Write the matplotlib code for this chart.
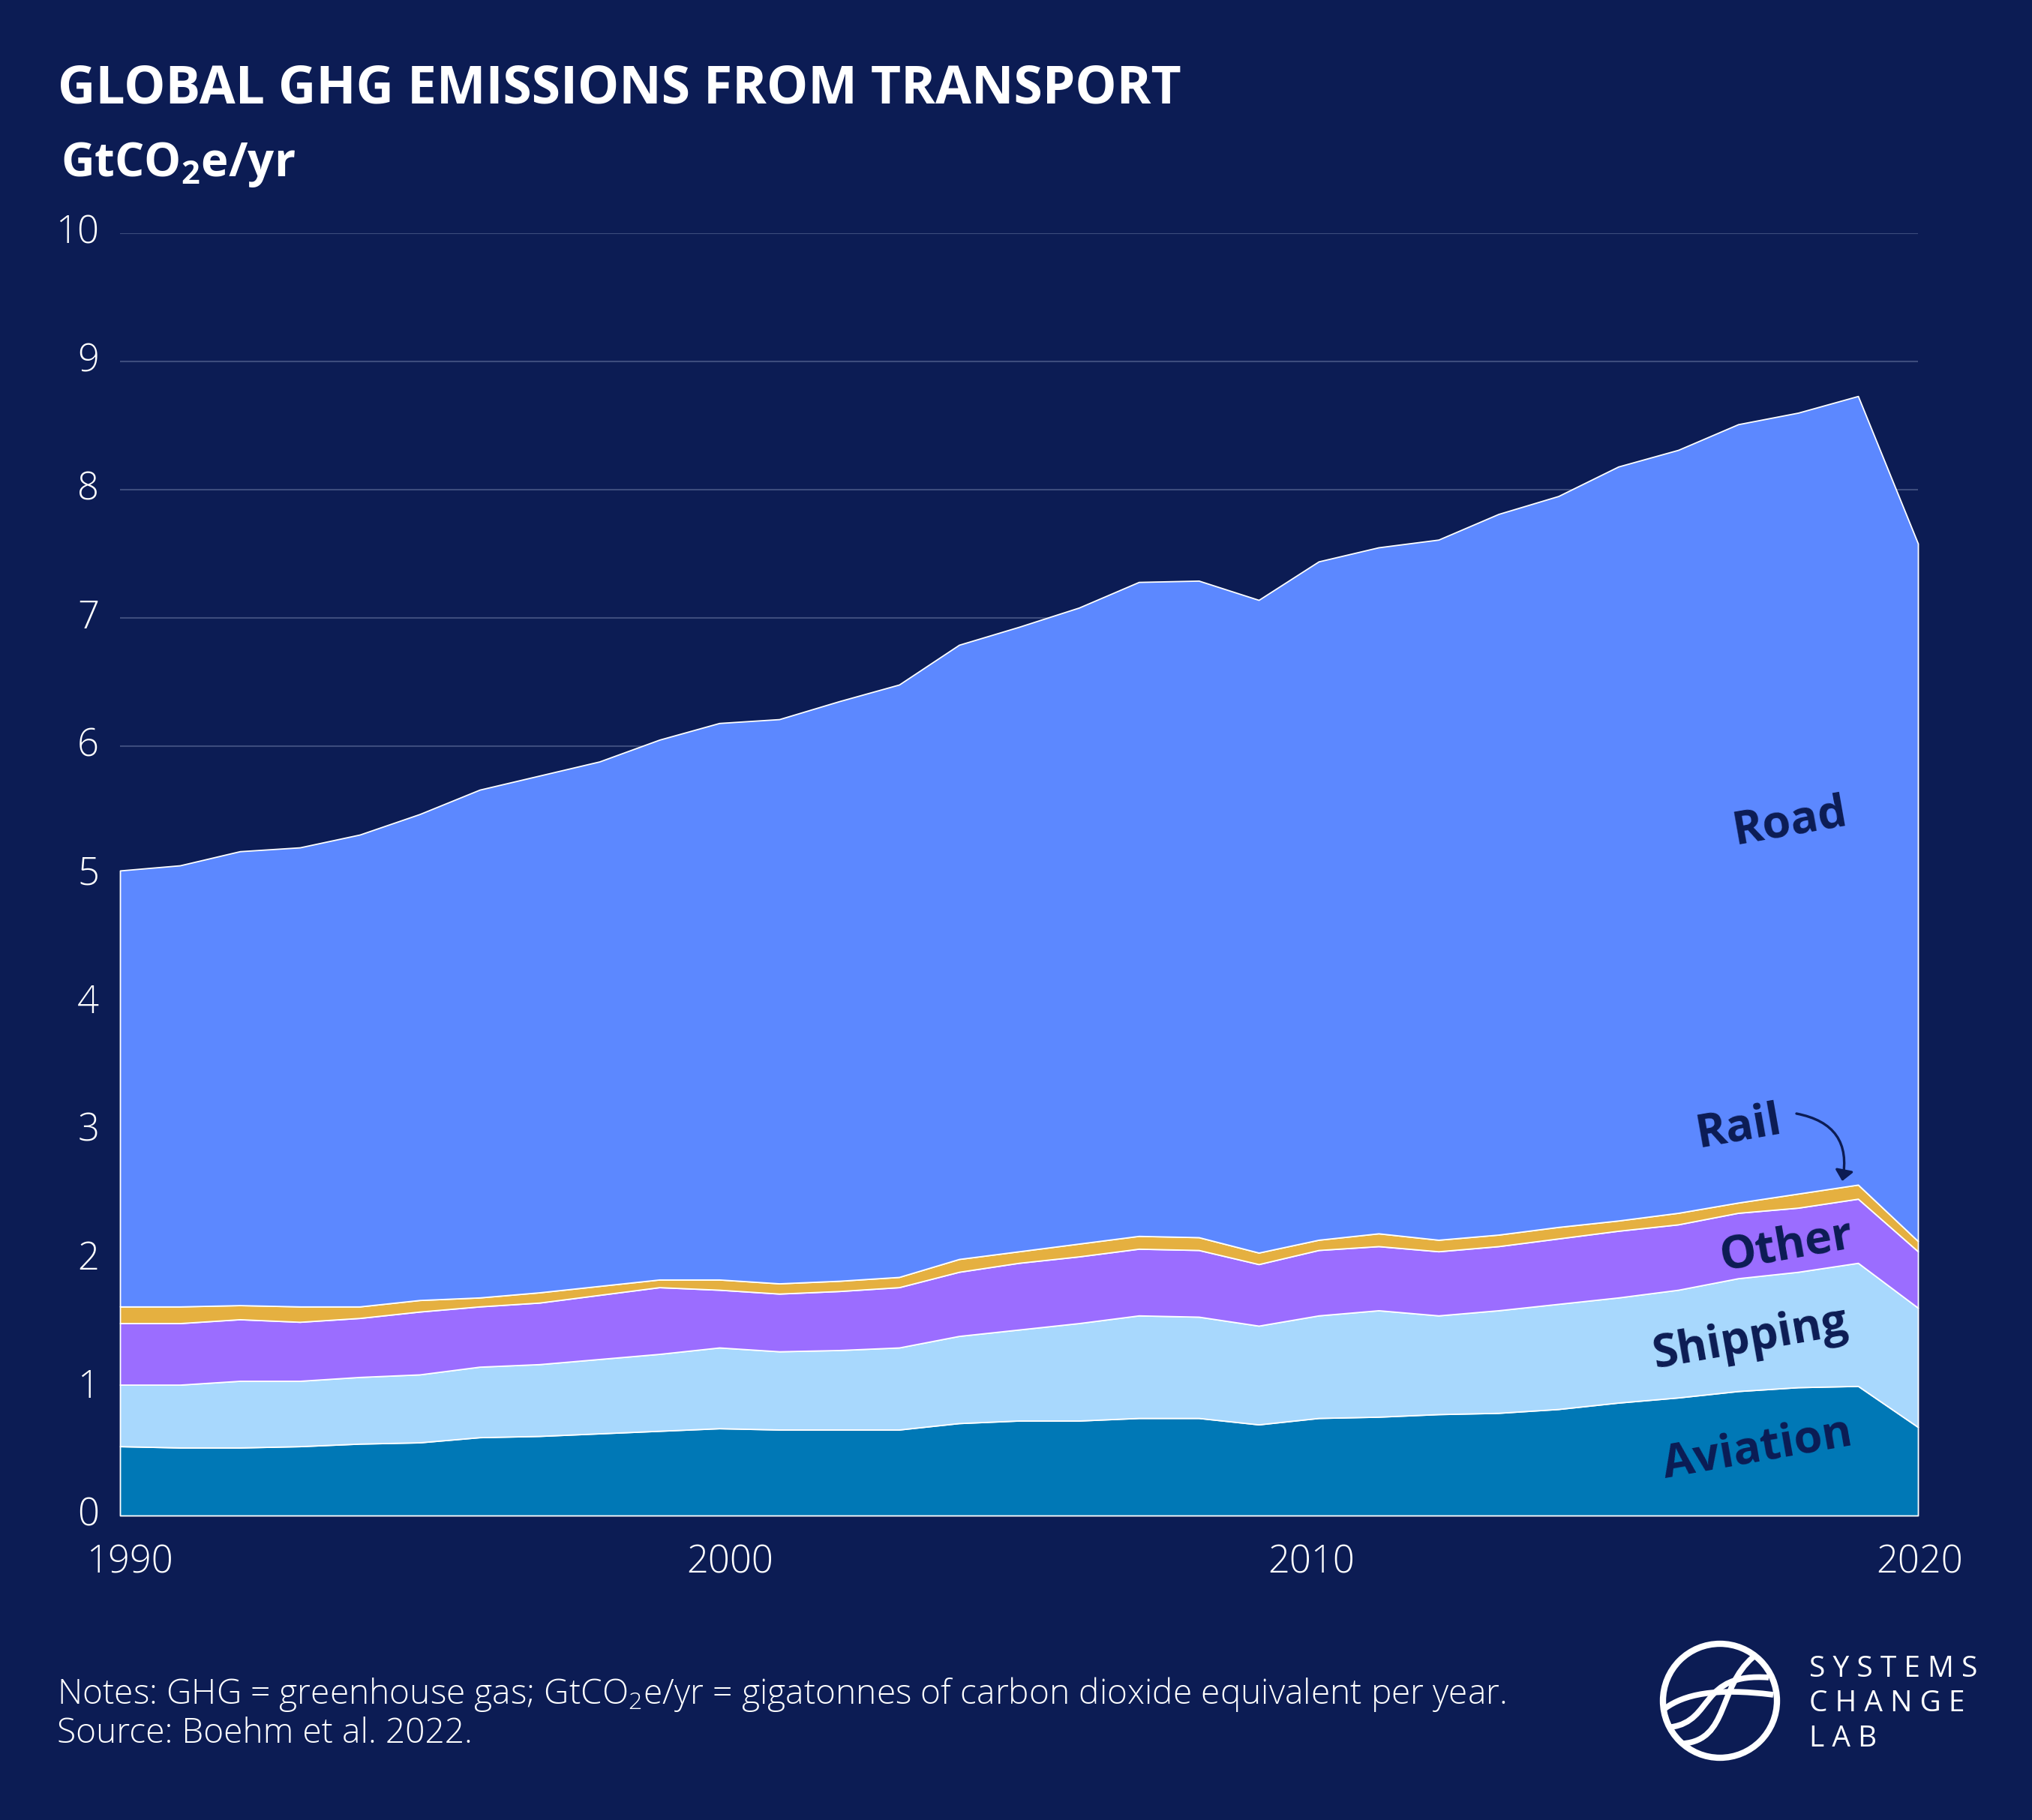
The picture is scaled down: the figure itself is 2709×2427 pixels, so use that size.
import matplotlib
matplotlib.use('Agg')
import matplotlib.pyplot as plt
from matplotlib.patches import Circle, PathPatch, FancyArrowPatch
from matplotlib.path import Path
from matplotlib.transforms import ScaledTranslation, Affine2D

W, H = 2709, 2427
FONT = 'Open Sans'
BG = '#0c1c54'
plt.rcParams['font.family'] = [FONT, 'DejaVu Sans']
plt.rcParams['mathtext.default'] = 'regular'

years = list(range(1990, 2021))
aviation = [.54,.53,.53,.54,.56,.57,.61,.62,.64,.66,.68,.67,.67,.67,.72,.74,.74,.76,.76,.71,.76,.77,.79,.80,.83,.88,.92,.97,1.00,1.01,.69]
shipping = [.48,.49,.52,.51,.52,.53,.55,.56,.58,.60,.63,.61,.62,.64,.68,.71,.76,.80,.79,.77,.80,.83,.77,.80,.82,.82,.84,.88,.90,.96,.93]
other = [.48,.48,.48,.46,.46,.49,.47,.48,.50,.52,.45,.45,.46,.47,.50,.52,.52,.52,.52,.48,.51,.50,.50,.50,.51,.52,.51,.51,.50,.50,.44]
rail = [.13,.13,.11,.12,.09,.09,.07,.08,.07,.06,.08,.08,.08,.08,.10,.09,.10,.10,.10,.09,.08,.10,.09,.09,.09,.08,.09,.08,.11,.11,.08]
road = [3.40,3.44,3.54,3.58,3.68,3.79,3.96,4.03,4.09,4.21,4.34,4.40,4.52,4.62,4.79,4.87,4.96,5.10,5.12,5.09,5.29,5.35,5.46,5.62,5.70,5.88,5.95,6.07,6.09,6.15,5.44]
series_colors = ['#0078b6', '#a8d8fd', '#9b6dff', '#e5b040', '#5c88ff']
y_ticks = list(range(0, 11))
x_ticks = [1990, 2000, 2010, 2020]
x_tick_shift_px = [13, 14, -10, 2]

fig = plt.figure(figsize=(W/100, H/100), dpi=100, facecolor=BG)
ax = fig.add_axes([160/W, (H-2021)/H, 2397/W, 1710/H], facecolor=BG)
ax.set_xlim(1990, 2020)
ax.set_ylim(0, 10)
for s in ax.spines.values():
    s.set_visible(False)
ax.yaxis.grid(True, color='#3d4c7d', lw=1.5)
ax.set_axisbelow(True)
polys = ax.stackplot(years, aviation, shipping, other, rail, road, colors=series_colors,
                     edgecolor='white', linewidth=1.3)
for p in polys:
    p.set_clip_on(False)
    p.set_zorder(2)

ax.set_yticks(y_ticks)
ax.set_xticks(x_ticks)
ax.tick_params(length=0, colors='white', labelsize=36.5)
ax.tick_params(axis='y', pad=20)
ax.tick_params(axis='x', pad=27)
for lab in ax.get_yticklabels():
    lab.set_fontweight('light')
    lab.set_transform(lab.get_transform() + ScaledTranslation(0, 6/100, fig.dpi_scale_trans))
for lab, dx in zip(ax.get_xticklabels(), x_tick_shift_px):
    lab.set_fontweight('light')
    lab.set_transform(lab.get_transform() + ScaledTranslation(dx/100, 0, fig.dpi_scale_trans))

def T(x, y, s, **kw):
    return fig.text(x/W, 1-y/H, s, **kw)

T(77, 138, 'GLOBAL GHG EMISSIONS FROM TRANSPORT', color='white', fontsize=50, fontweight='bold', va='baseline')
T(81, 235, 'GtCO$_2$e/yr', color='white', fontsize=44.5, fontweight='bold', va='baseline')
T(76, 2272, 'Notes: GHG = greenhouse gas; GtCO$_2$e/yr = gigatonnes of carbon dioxide equivalent per year.',
  color='white', fontsize=33.2, fontweight='light', va='baseline')
T(76, 2324, 'Source: Boehm et al. 2022.', color='white', fontsize=33.2, fontweight='light', va='baseline')

for name, x, y in [('Road', 2386, 1097), ('Rail', 2318, 1504), ('Other', 2382, 1663),
                   ('Shipping', 2333, 1786), ('Aviation', 2343, 1933)]:
    T(x, y, name, color=BG, fontsize=44, fontweight='bold', rotation=10, ha='center', va='center',
      rotation_mode='anchor', zorder=5)

px = Affine2D().scale(1/W, -1/H).translate(0, 1) + fig.transFigure
fig.add_artist(FancyArrowPatch((2395, 1485), (2456, 1575), transform=px, connectionstyle='arc3,rad=-0.5',
                               arrowstyle='-|>,head_length=0.38,head_width=0.33', mutation_scale=22,
                               color=BG, lw=2.4, shrinkA=0, shrinkB=0, zorder=5))

# logo
fig.add_artist(Circle((2293, 2268), 76, transform=px, fill=False, ec='white', lw=6))
V = [Path.MOVETO, Path.CURVE4, Path.CURVE4, Path.CURVE4]
curves = [
    ([(2220, 2278), (2245, 2260), (2285, 2250), (2364, 2260)], V),
    ([(2228, 2303), (2285, 2295), (2265, 2230), (2358, 2237)], V),
    ([(2244, 2325), (2305, 2320), (2290, 2250), (2337, 2210)], V),
]
for verts, codes in curves:
    fig.add_artist(PathPatch(Path(verts, codes), transform=px, fill=False, ec='white', lw=5.5))
for s, y in [('S Y S T E M S', 2236), ('C H A N G E', 2282), ('L A B', 2329)]:
    T(2412, y, s, color='white', fontsize=28, va='baseline')

fig.savefig('out.png', dpi=100, facecolor=BG)
